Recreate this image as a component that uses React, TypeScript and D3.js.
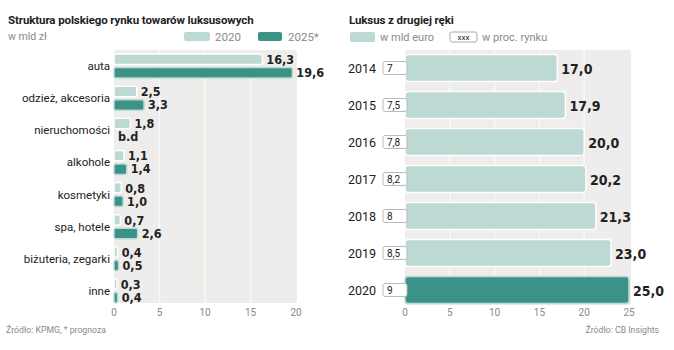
import React from "react";
import * as d3 from "d3";

const categories = ["auta", "odzież, akcesoria", "nieruchomości", "alkohole", "kosmetyki", "spa, hotele", "biżuteria, zegarki", "inne"];
const values2020 = [16.3, 2.5, 1.8, 1.1, 0.8, 0.7, 0.4, 0.3];
const values2025: (number | null)[] = [19.6, 3.3, null, 1.4, 1.0, 2.6, 0.5, 0.4];
const leftTicks = [0, 5, 10, 15, 20];

const years = ["2014", "2015", "2016", "2017", "2018", "2019", "2020"];
const resaleValues = [17.0, 17.9, 20.0, 20.2, 21.3, 23.0, 25.0];
const marketShare = ["7", "7,5", "7,8", "8,2", "8", "8,5", "9"];
const rightTicks = [0, 5, 10, 15, 20, 25];

const LIGHT = "#bcd9d3";
const TEAL = "#3b9387";
const PANEL = "#eeedeb";
const GRID = "#f8f8f6";
const TXT = "#222";
const GRAY = "#8a8a8a";
const NUMFONT = "'DejaVu Sans Condensed', 'Roboto', sans-serif";
const FONT = "'Roboto', 'Liberation Sans', sans-serif";

const fmt = (v: number) => v.toFixed(1).replace(".", ",");

export default function App() {
  const xL = d3.scaleLinear().domain([0, 20]).range([114, 296]);
  const yL = d3.scaleBand<string>().domain(categories).range([50, 307]);
  const xR = d3.scaleLinear().domain([0, 25]).range([405, 629]);
  const yR = d3.scaleBand<string>().domain(years).range([49.5, 308.5]);

  return (
    <svg width={674} height={350} style={{ position: "absolute", left: 0, top: 0, background: "#fff" }}>
      {/* LEFT CHART */}
      <text x={8} y={24} fontFamily={FONT} fontWeight={700} fontSize={11.5} fill={TXT} letterSpacing={-0.1}>
        Struktura polskiego rynku towarów luksusowych
      </text>
      <text x={8} y={40} fontFamily={FONT} fontSize={10.5} fill={GRAY}>w mld zł</text>
      <rect x={184} y={32} width={26} height={9} rx={2} fill={LIGHT} />
      <text x={215} y={41} fontFamily={FONT} fontSize={11.5} fill={GRAY}>2020</text>
      <rect x={258} y={32} width={24} height={9} rx={2} fill={TEAL} />
      <text x={288} y={41} fontFamily={FONT} fontSize={11.5} fill={GRAY}>2025*</text>

      <rect x={xL(0)} y={50} width={xL(20) - xL(0) + 1} height={253} rx={3} fill={PANEL} />
      {leftTicks.slice(1, -1).map((t) => (
        <line key={t} x1={xL(t)} x2={xL(t)} y1={50} y2={303} stroke={GRID} strokeWidth={1.5} />
      ))}
      {leftTicks.map((t) => (
        <text key={t} x={xL(t)} y={316} textAnchor="middle" fontFamily={FONT} fontSize={10} fill={GRAY}>{t}</text>
      ))}
      {categories.map((c, i) => {
        const cy = (yL(c) as number) + yL.bandwidth() / 2;
        const v1 = values2020[i];
        const v2 = values2025[i];
        return (
          <g key={c}>
            <text x={110} y={cy + 4} textAnchor="end" fontFamily={FONT} fontSize={11.5} fill={TXT}>{c}</text>
            <rect x={xL(0)} y={cy - 12} width={Math.max(xL(v1) - xL(0), 3)} height={10.5} rx={2} fill={LIGHT} stroke="#fff" strokeWidth={1.5} />
            <text x={xL(v1) + 4} y={cy - 2} fontFamily={NUMFONT} fontWeight={700} fontSize={12.5} fill={TXT}>{fmt(v1)}</text>
            {v2 !== null ? (
              <>
                <rect x={xL(0)} y={cy + 1.5} width={Math.max(xL(v2) - xL(0), 3)} height={10.5} rx={2} fill={TEAL} stroke={LIGHT} strokeWidth={1.5} />
                <text x={xL(v2) + 4} y={cy + 11} fontFamily={NUMFONT} fontWeight={700} fontSize={12.5} fill={TXT}>{fmt(v2)}</text>
              </>
            ) : (
              <text x={xL(0) + 4} y={cy + 11} fontFamily={NUMFONT} fontWeight={700} fontSize={12.5} fill={TXT}>b.d</text>
            )}
          </g>
        );
      })}
      <text x={6} y={333} fontFamily={FONT} fontSize={8.7} fill={GRAY}>Źródło: KPMG, * prognoza</text>

      {/* RIGHT CHART */}
      <text x={349} y={24} fontFamily={FONT} fontWeight={700} fontSize={11.5} fill={TXT} letterSpacing={-0.1}>Luksus z drugiej ręki</text>
      <rect x={350} y={32} width={25} height={10} rx={2} fill={LIGHT} />
      <text x={380} y={41} fontFamily={FONT} fontSize={11} fill={GRAY}>w mld euro</text>
      <rect x={450} y={32} width={27} height={10} rx={2} fill="#fff" stroke="#aaa" strokeWidth={1} />
      <text x={463.5} y={40} textAnchor="middle" fontFamily={FONT} fontSize={8} fill={TXT}>xxx</text>
      <text x={482} y={41} fontFamily={FONT} fontSize={11} fill={GRAY}>w proc. rynku</text>

      <rect x={xR(0)} y={50} width={xR(25) - xR(0) + 2} height={255} rx={3} fill={PANEL} />
      {rightTicks.slice(1, -1).map((t) => (
        <line key={t} x1={xR(t)} x2={xR(t)} y1={50} y2={305} stroke={GRID} strokeWidth={1.5} />
      ))}
      {rightTicks.map((t) => (
        <text key={t} x={xR(t)} y={316} textAnchor="middle" fontFamily={FONT} fontSize={10} fill={GRAY}>{t}</text>
      ))}
      {years.map((yr, i) => {
        const cy = (yR(yr) as number) + yR.bandwidth() / 2;
        const v = resaleValues[i];
        const last = i === years.length - 1;
        return (
          <g key={yr}>
            <text x={348} y={cy + 4.5} fontFamily={FONT} fontSize={12.5} fill={TXT}>{yr}</text>
            <rect x={xR(0)} y={cy - 13.5} width={xR(v) - xR(0)} height={27} rx={3} fill={last ? TEAL : LIGHT} stroke={last ? LIGHT : "#fff"} strokeWidth={1.5} />
            <rect x={383} y={cy - 6.5} width={24} height={13} rx={2} fill="#fff" stroke="#bbb" strokeWidth={1} />
            <text x={387} y={cy + 3.5} fontFamily={FONT} fontSize={10} fill={TXT}>{marketShare[i]}</text>
            <text x={xR(v) + 4} y={cy + 6} fontFamily={NUMFONT} fontWeight={700} fontSize={14} fill={TXT}>{fmt(v)}</text>
          </g>
        );
      })}
      <text x={659} y={333} textAnchor="end" fontFamily={FONT} fontSize={8.7} fill={GRAY}>Źródło: CB Insights</text>
    </svg>
  );
}
